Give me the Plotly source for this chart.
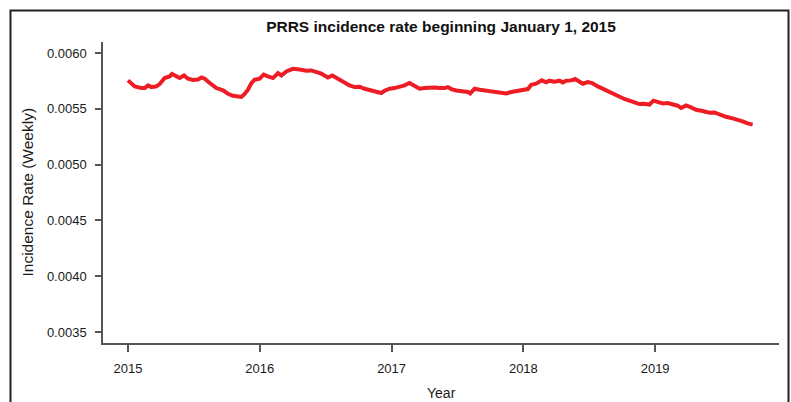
import plotly.graph_objects as go

# Decimal year (weekly series)
year = [
    2015.000, 2015.051, 2015.102, 2015.127, 2015.152, 2015.177, 2015.215, 2015.240,
    2015.278, 2015.316, 2015.334, 2015.367, 2015.392, 2015.425, 2015.455, 2015.493,
    2015.531, 2015.557, 2015.582, 2015.620, 2015.670, 2015.721, 2015.758, 2015.796,
    2015.834, 2015.860, 2015.885, 2015.910, 2015.936, 2015.961, 2015.999, 2016.029,
    2016.062, 2016.100, 2016.138, 2016.164, 2016.201, 2016.251, 2016.302, 2016.353,
    2016.391, 2016.429, 2016.467, 2016.517, 2016.550, 2016.593, 2016.631, 2016.681,
    2016.719, 2016.757, 2016.795, 2016.846, 2016.896, 2016.922, 2016.947, 2016.985,
    2017.022, 2017.060, 2017.098, 2017.136, 2017.174, 2017.212, 2017.250, 2017.288,
    2017.326, 2017.364, 2017.402, 2017.427, 2017.453, 2017.491, 2017.541, 2017.579,
    2017.597, 2017.630, 2017.668, 2017.718, 2017.756, 2017.794, 2017.832, 2017.870,
    2017.908, 2017.933, 2017.971, 2018.009, 2018.034, 2018.060, 2018.097, 2018.140,
    2018.173, 2018.198, 2018.236, 2018.274, 2018.299, 2018.325, 2018.363, 2018.393,
    2018.426, 2018.451, 2018.489, 2018.522, 2018.565, 2018.615, 2018.666, 2018.716,
    2018.767, 2018.805, 2018.843, 2018.881, 2018.919, 2018.957, 2018.987, 2019.020,
    2019.058, 2019.096, 2019.133, 2019.171, 2019.197, 2019.235, 2019.273, 2019.311,
    2019.361, 2019.412, 2019.450, 2019.488, 2019.538, 2019.589, 2019.626, 2019.664,
    2019.702, 2019.740,
]

rate = [
    0.005755, 0.005701, 0.005686, 0.005686, 0.005710, 0.005695, 0.005701, 0.005722,
    0.005776, 0.005790, 0.005812, 0.005790, 0.005776, 0.005799, 0.005770, 0.005758,
    0.005763, 0.005781, 0.005770, 0.005731, 0.005686, 0.005665, 0.005635, 0.005617,
    0.005615, 0.005606, 0.005633, 0.005671, 0.005731, 0.005761, 0.005770, 0.005806,
    0.005790, 0.005776, 0.005821, 0.005799, 0.005835, 0.005859, 0.005853, 0.005841,
    0.005844, 0.005830, 0.005815, 0.005781, 0.005799, 0.005770, 0.005740, 0.005710,
    0.005695, 0.005698, 0.005680, 0.005668, 0.005656, 0.005642, 0.005662, 0.005680,
    0.005686, 0.005695, 0.005710, 0.005731, 0.005701, 0.005680, 0.005686, 0.005692,
    0.005692, 0.005686, 0.005686, 0.005695, 0.005677, 0.005665, 0.005662, 0.005651,
    0.005638, 0.005680, 0.005671, 0.005662, 0.005656, 0.005656, 0.005647, 0.005638,
    0.005651, 0.005656, 0.005665, 0.005665, 0.005677, 0.005716, 0.005725, 0.005755,
    0.005737, 0.005752, 0.005743, 0.005752, 0.005737, 0.005752, 0.005755, 0.005767,
    0.005743, 0.005725, 0.005740, 0.005731, 0.005701, 0.005671, 0.005642, 0.005617,
    0.005588, 0.005573, 0.005557, 0.005543, 0.005546, 0.005537, 0.005573, 0.005561,
    0.005548, 0.005552, 0.005543, 0.005528, 0.005507, 0.005530, 0.005513, 0.005492,
    0.005480, 0.005465, 0.005468, 0.005447, 0.005429, 0.005414, 0.005405, 0.005387,
    0.005369, 0.005358,
]

x_ticks = [2015, 2016, 2017, 2018, 2019]
x_tick_labels = ["2015", "2016", "2017", "2018", "2019"]
y_ticks = [0.0035, 0.0040, 0.0045, 0.0050, 0.0055, 0.0060]
y_tick_labels = ["0.0035", "0.0040", "0.0045", "0.0050", "0.0055", "0.0060"]

FONT = "Arial, 'Liberation Sans', sans-serif"
AXIS_COL = "#555555"

fig = go.Figure()
fig.add_trace(go.Scatter(
    x=year, y=rate, mode="lines",
    line=dict(color="#EE1C25", width=4),
    showlegend=False,
))

fig.update_layout(
    width=791, height=402,
    margin=dict(l=103, r=12, t=42, b=59),
    paper_bgcolor="white", plot_bgcolor="white",
    font=dict(family=FONT, color="#1a1a1a"),
    title=dict(
        text="<b>PRRS incidence rate beginning January 1, 2015</b>",
        x=441 / 791, xanchor="center", xref="container",
        y=1 - 27 / 402, yanchor="middle", yref="container",
        font=dict(size=15.5, family=FONT, color="#111111"),
    ),
    xaxis=dict(
        range=[2014.81, 2019.94],
        tickvals=x_ticks, ticktext=x_tick_labels,
        showgrid=False, zeroline=False,
        showline=True, linecolor=AXIS_COL, linewidth=1.5,
        ticks="outside", ticklen=7, tickwidth=1.5, tickcolor=AXIS_COL,
        tickfont=dict(size=13, family=FONT, color="#1a1a1a"),
        ticklabelstandoff=6,
    ),
    yaxis=dict(
        range=[0.003401, 0.006099],
        tickvals=y_ticks, ticktext=y_tick_labels,
        showgrid=False, zeroline=False,
        showline=True, linecolor=AXIS_COL, linewidth=1.5,
        ticks="outside", ticklen=6, tickwidth=1.5, tickcolor=AXIS_COL,
        tickfont=dict(size=13, family=FONT, color="#1a1a1a"),
        ticklabelstandoff=6,
    ),
    annotations=[
        dict(text="Year", xref="paper", yref="paper",
             x=0.5, y=(343 - 393) / 301, xanchor="center", yanchor="middle",
             showarrow=False, font=dict(size=14, family=FONT, color="#1a1a1a")),
        dict(text="Incidence Rate (Weekly)", xref="paper", yref="paper",
             x=(27 - 103) / 676, y=0.5, xanchor="center", yanchor="middle",
             textangle=-90, showarrow=False,
             font=dict(size=15.5, family=FONT, color="#1a1a1a")),
    ],
    shapes=[
        dict(type="rect", xref="paper", yref="paper",
             x0=(10.5 - 103) / 676, x1=(788.5 - 103) / 676,
             y0=(343 - 420) / 301, y1=(343 - 10.5) / 301,
             line=dict(color="#222222", width=2), fillcolor="rgba(0,0,0,0)",
             layer="below"),
    ],
)

fig.write_html("out.html")
